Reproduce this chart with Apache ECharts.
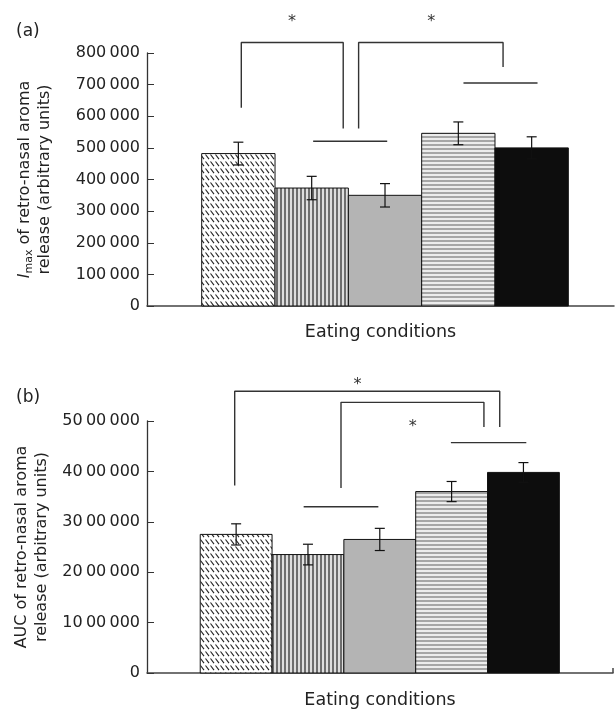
<!DOCTYPE html>
<html>
<head>
<meta charset="utf-8">
<script src="https://cdn.jsdelivr.net/npm/echarts@6/dist/echarts.min.js"></script>
<style>
html, body { margin: 0; padding: 0; background: #fff; }
#main { width: 615px; height: 710px; }
</style>
</head>
<body>
<div id="main"></div>
<script>
// five eating conditions, bars sit at positions 0..4 on the x axis
var positions = [0, 1, 2, 3, 4];

// panel (a): Imax
var imaxValues = [482000, 373000, 350000, 546000, 500000];
var imaxErrors = [36000, 37000, 37000, 36000, 35000];
var imaxTicks = ['0', '100\u2009000', '200\u2009000', '300\u2009000', '400\u2009000',
                 '500\u2009000', '600\u2009000', '700\u2009000', '800\u2009000'];

// panel (b): AUC
var aucValues = [2750000, 2350000, 2650000, 3600000, 3980000];
var aucErrors = [210000, 205000, 220000, 200000, 195000];
var aucTicks = ['0', '10\u200900\u2009000', '20\u200900\u2009000', '30\u200900\u2009000',
                '40\u200900\u2009000', '50\u200900\u2009000'];

// significance marks: [position, value] points
var imaxBrackets = [
    [[0.04, 627000], [0.04, 833000], [1.43, 833000], [1.43, 561000]],
    [[1.64, 561000], [1.64, 833000], [3.61, 833000], [3.61, 756000]],
    [[1.02, 521000], [2.03, 521000]],
    [[3.07, 705000], [4.08, 705000]]
];
var imaxStars = [[0.73, 900000], [2.63, 900000]];

var aucBrackets = [
    [[-0.02, 3720000], [-0.02, 5590000], [3.67, 5590000], [3.67, 4880000]],
    [[1.46, 3670000], [1.46, 5370000], [3.45, 5370000], [3.45, 4880000]],
    [[0.94, 3300000], [1.98, 3300000]],
    [[2.99, 4570000], [4.04, 4570000]]
];
var aucStars = [[1.69, 5720000], [2.46, 4880000]];

var FONT = 'DejaVu Sans';
var INK = '#222';

function makePattern(w, h, draw) {
    var c = document.createElement('canvas');
    c.width = w;
    c.height = h;
    draw(c.getContext('2d'));
    return { image: c, repeat: 'repeat' };
}

var fills = [
    makePattern(5, 7, function (ctx) {
        ctx.fillStyle = '#fff';
        ctx.fillRect(0, 0, 5, 7);
        ctx.strokeStyle = '#222';
        ctx.lineWidth = 1.1;
        ctx.beginPath();
        ctx.moveTo(0.5, 0.5);
        ctx.lineTo(4, 5.2);
        ctx.stroke();
    }),
    makePattern(4, 1, function (ctx) {
        ctx.fillStyle = '#dedede';
        ctx.fillRect(0, 0, 4, 1);
        ctx.fillStyle = '#6e6e6e';
        ctx.fillRect(0, 0, 2, 1);
    }),
    '#b4b4b4',
    makePattern(1, 4, function (ctx) {
        ctx.fillStyle = '#ececec';
        ctx.fillRect(0, 0, 1, 4);
        ctx.fillStyle = '#a6a6a6';
        ctx.fillRect(0, 0, 1, 2);
    }),
    '#0d0d0d'
];

function barItem(params, api) {
    var x = api.value(0), v = api.value(1);
    var p0 = api.coord([x - 0.5, v]);
    var p1 = api.coord([x + 0.5, 0]);
    return {
        type: 'rect',
        shape: { x: p0[0], y: p0[1], width: p1[0] - p0[0], height: p1[1] - p0[1] },
        style: { fill: fills[params.dataIndex], stroke: '#111', lineWidth: 1 }
    };
}

function errItem(params, api) {
    var x = api.value(0), v = api.value(1), e = api.value(2);
    var hi = api.coord([x, v + e]);
    var lo = api.coord([x, v - e]);
    var s = { stroke: '#111', lineWidth: 1.2 };
    return {
        type: 'group',
        children: [
            { type: 'line', shape: { x1: hi[0], y1: hi[1], x2: lo[0], y2: lo[1] }, style: s },
            { type: 'line', shape: { x1: hi[0] - 5, y1: hi[1], x2: hi[0] + 5, y2: hi[1] }, style: s },
            { type: 'line', shape: { x1: lo[0] - 5, y1: lo[1], x2: lo[0] + 5, y2: lo[1] }, style: s }
        ]
    };
}

function starItem(params, api) {
    var p = api.coord([api.value(0), api.value(1)]);
    return {
        type: 'text',
        x: p[0], y: p[1],
        style: { text: '*', fontFamily: FONT, fontSize: 16, fill: '#333', align: 'center', verticalAlign: 'middle' }
    };
}

function panelSeries(idx, values, errors, brackets, stars) {
    var list = [];
    list.push({
        type: 'custom', xAxisIndex: idx, yAxisIndex: idx, silent: true,
        renderItem: barItem,
        data: positions.map(function (p, i) { return [p, values[i]]; })
    });
    list.push({
        type: 'custom', xAxisIndex: idx, yAxisIndex: idx, silent: true,
        renderItem: errItem,
        data: positions.map(function (p, i) { return [p, values[i], errors[i]]; })
    });
    brackets.forEach(function (b) {
        list.push({
            type: 'line', xAxisIndex: idx, yAxisIndex: idx, silent: true, clip: false,
            symbol: 'none', lineStyle: { color: '#333', width: 1.4 },
            data: b
        });
    });
    list.push({
        type: 'custom', xAxisIndex: idx, yAxisIndex: idx, silent: true, clip: false,
        renderItem: starItem,
        data: stars
    });
    return list;
}

var nameStyle = {
    fontFamily: FONT, fontSize: 16, color: INK, lineHeight: 20,
    rich: {
        it: { fontFamily: FONT, fontSize: 16, fontStyle: 'italic', color: INK },
        sub: { fontFamily: FONT, fontSize: 11, color: INK, verticalAlign: 'bottom', lineHeight: 12 }
    }
};

function yAxisFor(idx, max, interval, ticks, name) {
    return {
        type: 'value', gridIndex: idx, min: 0, max: max, interval: interval,
        axisLine: { show: true, onZero: false, lineStyle: { color: '#333', width: 1.3 } },
        axisTick: { show: true, inside: true, length: 7, lineStyle: { color: '#333' } },
        splitLine: { show: false },
        axisLabel: {
            fontFamily: FONT, fontSize: 16, color: INK, margin: 7,
            formatter: function (v) { return ticks[Math.round(v / interval)]; }
        },
        name: name, nameLocation: 'middle', nameRotate: 90, nameGap: 92,
        nameTextStyle: nameStyle
    };
}

var chart = echarts.init(document.getElementById('main'));
chart.setOption({
    animation: false,
    backgroundColor: '#fff',
    title: [
        { text: '(a)', left: 16, top: 23, padding: 0,
          textStyle: { fontFamily: FONT, fontSize: 17, fontWeight: 'normal', color: INK } },
        { text: '(b)', left: 16, top: 389, padding: 0,
          textStyle: { fontFamily: FONT, fontSize: 17, fontWeight: 'normal', color: INK } }
    ],
    grid: [
        { left: 147, right: 1, top: 53, height: 253 },
        { left: 147, right: 2, top: 421, height: 254 }
    ],
    xAxis: [
        {
            type: 'value', gridIndex: 0, min: -1.246, max: 5.123,
            axisLine: { show: true, onZero: false, lineStyle: { color: '#444', width: 1.5 } },
            axisTick: { show: false }, axisLabel: { show: false }, splitLine: { show: false },
            name: 'Eating conditions', nameLocation: 'middle', nameGap: 17,
            nameTextStyle: { fontFamily: FONT, fontSize: 17.5, color: INK, verticalAlign: 'top' }
        },
        {
            type: 'value', gridIndex: 1, min: -1.241, max: 5.247,
            axisLine: { show: true, onZero: false, lineStyle: { color: '#444', width: 1.5 } },
            axisTick: { show: true, inside: true, length: 5, customValues: [5.247], lineStyle: { color: '#444', width: 1.5 } },
            axisLabel: { show: false }, splitLine: { show: false },
            name: 'Eating conditions', nameLocation: 'middle', nameGap: 18,
            nameTextStyle: { fontFamily: FONT, fontSize: 17.5, color: INK, verticalAlign: 'top' }
        }
    ],
    yAxis: [
        yAxisFor(0, 800000, 100000, imaxTicks, '{it|I}{sub|max} of retro-nasal aroma\nrelease (arbitrary units)'),
        yAxisFor(1, 5000000, 1000000, aucTicks, 'AUC of retro-nasal aroma\nrelease (arbitrary units)')
    ],
    series: panelSeries(0, imaxValues, imaxErrors, imaxBrackets, imaxStars)
        .concat(panelSeries(1, aucValues, aucErrors, aucBrackets, aucStars))
});
</script>
</body>
</html>
